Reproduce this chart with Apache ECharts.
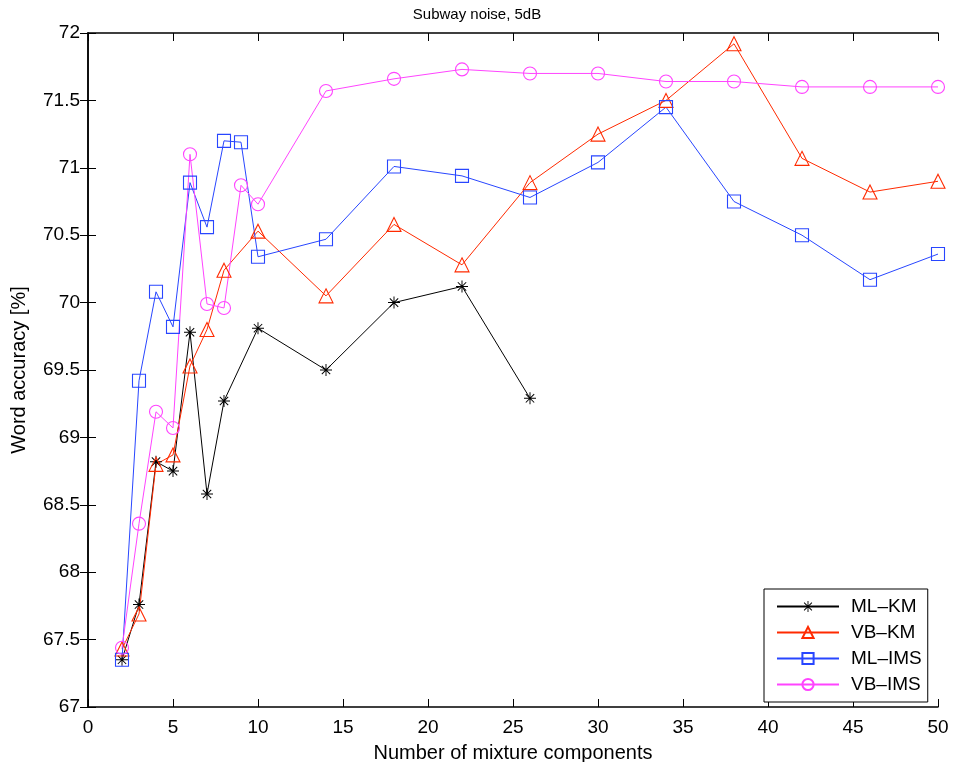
<!DOCTYPE html>
<html><head><meta charset="utf-8">
<script src="https://cdn.jsdelivr.net/npm/echarts@6/dist/echarts.min.js"></script>
<style>html,body{margin:0;padding:0;background:#fff}#c{width:954px;height:762px}</style>
</head><body><div id="c"></div>
<script>
const xKM = [2,3,4,5,6,7,8,10,14,18,22,26];
const mlKM = [67.35,67.76,68.82,68.75,69.78,68.58,69.27,69.81,69.50,70.00,70.12,69.29];
const xAll = [2,3,4,5,6,7,8,10,14,18,22,26,30,34,38,42,46,50];
const vbKM = [67.43,67.69,68.80,68.87,69.53,69.80,70.24,70.53,70.05,70.58,70.28,70.89,71.25,71.50,71.92,71.07,70.82,70.90];
const xIMS = [2,3,4,5,6,7,8,9,10,14,18,22,26,30,34,38,42,46,50];
const mlIMS = [67.35,69.42,70.08,69.82,70.89,70.56,71.20,71.19,70.34,70.47,71.01,70.94,70.78,71.04,71.45,70.75,70.50,70.17,70.36];
const vbIMS = [67.44,68.36,69.19,69.07,71.10,69.99,69.96,70.87,70.73,71.57,71.66,71.73,71.70,71.70,71.64,71.64,71.60,71.60,71.60];
const seriesNames = ['ML\u2013KM','VB\u2013KM','ML\u2013IMS','VB\u2013IMS'];
const xTicks = [0,5,10,15,20,25,30,35,40,45,50];
const yTicks = [67,67.5,68,68.5,69,69.5,70,70.5,71,71.5,72];

const star = 'path://M9.2 0 L10.8 0 L10.8 20 L9.2 20 Z M0 9.2 L20 9.2 L20 10.8 L0 10.8 Z M2.43 3.57 L3.57 2.43 L17.57 16.43 L16.43 17.57 Z M16.43 2.43 L17.57 3.57 L3.57 17.57 L2.43 16.43 Z';
const zip = (xs, ys) => xs.map((x, i) => [x, ys[i]]);
const FONT = '"Liberation Sans", Arial, Helvetica, sans-serif';

function mk(name, xs, ys, color, symbol, size) {
  return {
    name, type: 'line', data: zip(xs, ys), symbol, symbolSize: size,
    showAllSymbol: true, animation: false,
    lineStyle: { color, width: 1 },
    itemStyle: { color: symbol === star ? color : 'rgba(0,0,0,0)', borderColor: color, borderWidth: symbol === star ? 0 : 1.1 },
    emphasis: { disabled: true }
  };
}

const chart = echarts.init(document.getElementById('c'));
const axisCommon = {
  axisLine: { show: true, lineStyle: { color: '#000', width: 1.5 } },
  axisTick: { show: true, inside: true, length: 8, lineStyle: { color: '#000', width: 1 } },
  splitLine: { show: false }
};
chart.setOption({
  animation: false,
  backgroundColor: '#fff',
  title: { text: 'Subway noise, 5dB', left: 'center', top: 2,
    textStyle: { fontFamily: FONT, fontSize: 15, fontWeight: 'normal', color: '#000' } },
  grid: { left: 88, right: 16, top: 33, bottom: 55, containLabel: false, outerBoundsMode: 'none' },
  legend: {
    orient: 'vertical', left: 764, top: 589,
    padding: [8, 6, 8, 12], itemWidth: 62, itemHeight: 14, itemGap: 7,
    backgroundColor: '#fff', borderColor: '#000', borderWidth: 1,
    textStyle: { fontFamily: FONT, fontSize: 19, color: '#000', padding: [0, 0, 0, 7] },
    data: seriesNames
  },
  xAxis: [
    Object.assign({ type: 'value', min: 0, max: 50, interval: 5, position: 'bottom',
      name: 'Number of mixture components', nameLocation: 'middle', nameGap: 36,
      nameTextStyle: { fontFamily: FONT, fontSize: 20, color: '#000' },
      axisLabel: { fontFamily: FONT, fontSize: 19, color: '#000', margin: 11,
        formatter: v => xTicks.includes(v) ? String(v) : '' } }, axisCommon),
    Object.assign({ type: 'value', min: 0, max: 50, interval: 5, position: 'top',
      axisLabel: { show: false } }, axisCommon)
  ],
  yAxis: [
    Object.assign({ type: 'value', min: 67, max: 72, interval: 0.5, position: 'left',
      name: 'Word accuracy [%]', nameLocation: 'middle', nameGap: 59,
      nameTextStyle: { fontFamily: FONT, fontSize: 20, color: '#000' },
      axisLabel: { fontFamily: FONT, fontSize: 19, color: '#000', margin: 8, padding: [4, 0, 0, 0],
        formatter: v => { const t = yTicks.find(y => Math.abs(y - v) < 1e-6); return t === undefined ? '' : String(t); } } }, axisCommon),
    Object.assign({ type: 'value', min: 67, max: 72, interval: 0.5, position: 'right',
      axisLabel: { show: false } }, axisCommon)
  ],
  series: [
    mk(seriesNames[0], xKM, mlKM, '#000000', star, 12),
    mk(seriesNames[1], xAll, vbKM, '#ff2a00', 'triangle', 14),
    mk(seriesNames[2], xIMS, mlIMS, '#2846ff', 'rect', 13),
    mk(seriesNames[3], xIMS, vbIMS, '#ff44ff', 'circle', 13)
  ]
});
</script></body></html>
